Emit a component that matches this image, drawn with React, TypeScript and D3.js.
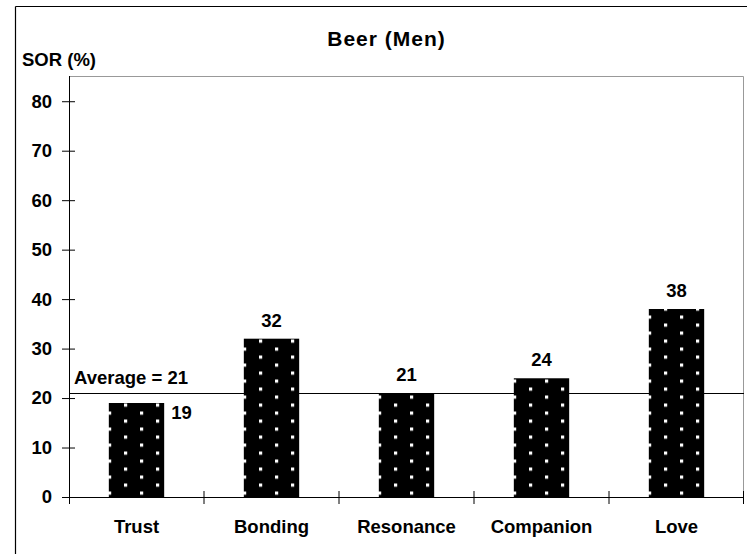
import React, { useEffect, useRef } from "react";
import * as d3 from "d3";

const categories = ["Trust", "Bonding", "Resonance", "Companion", "Love"];
const sorValues = [19, 32, 21, 24, 38];
const yTicks = [0, 10, 20, 30, 40, 50, 60, 70, 80];
const average = 21;

const App = () => {
  const svgRef = useRef<SVGSVGElement>(null);

  useEffect(() => {
    drawChart();
  }, []);

  const drawChart = () => {
    const W = 747;
    const H = 554;
    const margin = { top: 76, right: 3, bottom: 57, left: 69 };
    const width = W - margin.left - margin.right;
    const height = H - margin.top - margin.bottom;
    const font = "'Liberation Sans', Arial, sans-serif";
    const fs = "18.5px";

    const root = d3.select(svgRef.current).attr("width", W).attr("height", H);
    root.selectAll("*").remove();

    // outer frame (only top and left edges are in view)
    root.append("line").attr("x1", 15.5).attr("x2", W).attr("y1", 6.5).attr("y2", 6.5)
      .attr("stroke", "#000").attr("stroke-width", 1.2);
    root.append("line").attr("x1", 15.5).attr("x2", 15.5).attr("y1", 6.5).attr("y2", H)
      .attr("stroke", "#000").attr("stroke-width", 1.2);

    const x = d3.scaleBand().domain(categories).range([0, width]).padding(0);
    const y = d3.scaleLinear().domain([0, 85.1]).range([height, 0]);

    const svg = root.append("g").attr("transform", `translate(${margin.left},${margin.top})`);

    // plot area border (top + right, grey)
    svg.append("path")
      .attr("d", `M0.5,0.5H${width - 0.5}V${height}`)
      .attr("fill", "none").attr("stroke", "#999").attr("stroke-width", 1);

    const barW = x.bandwidth() * 0.41;
    const defs = root.append("defs");

    categories.forEach((c, i) => {
      const cx = margin.left + (x(c) as number) + x.bandwidth() / 2;
      const p = defs.append("pattern")
        .attr("id", `dots${i}`)
        .attr("patternUnits", "userSpaceOnUse")
        .attr("width", 32).attr("height", 16)
        .attr("x", cx - 1.5).attr("y", margin.top + height - 1.5);
      p.append("rect").attr("width", 32).attr("height", 16).attr("fill", "#000");
      p.append("rect").attr("x", 0).attr("y", 0).attr("width", 3.2).attr("height", 3.2).attr("fill", "#fff");
      p.append("rect").attr("x", 16).attr("y", 8).attr("width", 3.2).attr("height", 3.2).attr("fill", "#fff");
    });

    svg.selectAll("rect.bar")
      .data(sorValues)
      .enter()
      .append("rect")
      .attr("class", "bar")
      .attr("x", (d, i) => (x(categories[i]) as number) + (x.bandwidth() - barW) / 2)
      .attr("y", (d) => y(d))
      .attr("width", barW)
      .attr("height", (d) => height - y(d))
      .attr("fill", (d, i) => `url(#dots${i})`);

    // average line
    svg.append("line")
      .attr("x1", 0).attr("x2", width)
      .attr("y1", Math.round(y(average)) + 0.5).attr("y2", Math.round(y(average)) + 0.5)
      .attr("stroke", "#000").attr("stroke-width", 1);
    svg.append("text")
      .attr("x", 5).attr("y", y(average) - 9)
      .style("font-family", font).style("font-size", fs).style("font-weight", "bold")
      .text(`Average = ${average}`);

    // value labels
    svg.selectAll("text.val")
      .data(sorValues)
      .enter()
      .append("text")
      .attr("class", "val")
      .attr("x", (d, i) => {
        const cx = (x(categories[i]) as number) + x.bandwidth() / 2;
        return d < average ? cx + barW / 2 + 7 : cx;
      })
      .attr("y", (d) => (d < average ? y(d) + 16 : y(d) - 12))
      .attr("text-anchor", (d) => (d < average ? "start" : "middle"))
      .style("font-family", font).style("font-size", fs).style("font-weight", "bold")
      .text((d) => d);

    // y axis
    const yAxis = svg.append("g")
      .call(d3.axisLeft(y).tickValues(yTicks).tickSizeInner(7).tickSizeOuter(0).tickPadding(10));
    yAxis.select(".domain").remove();
    yAxis.append("line").attr("x1", 0.5).attr("x2", 0.5).attr("y1", 0).attr("y2", height + 7)
      .attr("stroke", "#000");
    yAxis.selectAll(".tick line").attr("x1", 6).attr("x2", -7).attr("stroke", "#000");
    yAxis.selectAll(".tick text")
      .style("font-family", font).style("font-size", fs).style("font-weight", "bold")
      .attr("fill", "#000");

    // x axis
    const xg = svg.append("g").attr("transform", `translate(0,${height})`);
    xg.append("line").attr("x1", 0).attr("x2", width).attr("y1", 0.5).attr("y2", 0.5).attr("stroke", "#000");
    const bounds = categories.map((c) => x(c) as number).concat([width]).slice(1);
    xg.selectAll("line.tk")
      .data(bounds)
      .enter()
      .append("line")
      .attr("class", "tk")
      .attr("x1", (d) => Math.min(d, width - 0.5)).attr("x2", (d) => Math.min(d, width - 0.5))
      .attr("y1", -6).attr("y2", 7)
      .attr("stroke", "#000");
    xg.selectAll("text.cat")
      .data(categories)
      .enter()
      .append("text")
      .attr("class", "cat")
      .attr("x", (d) => (x(d) as number) + x.bandwidth() / 2)
      .attr("y", 36)
      .attr("text-anchor", "middle")
      .style("font-family", font).style("font-size", fs).style("font-weight", "bold")
      .text((d) => d);

    // axis title and chart title
    root.append("text")
      .attr("x", 22).attr("y", 66)
      .style("font-family", font).style("font-size", fs).style("font-weight", "bold")
      .text("SOR (%)");
    root.append("text")
      .attr("x", 386.5).attr("y", 46)
      .attr("text-anchor", "middle")
      .style("font-family", font).style("font-size", "21px").style("font-weight", "bold")
      .style("letter-spacing", "1px")
      .text("Beer (Men)");
  };

  return <svg ref={svgRef} style={{ position: "absolute", left: 0, top: 0 }}></svg>;
};

export default App;
